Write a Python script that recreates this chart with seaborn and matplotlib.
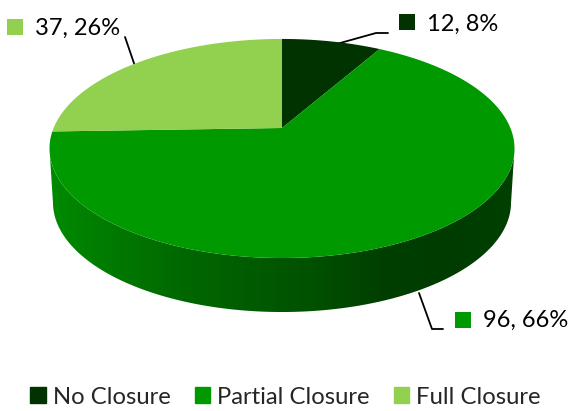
import numpy as np
import pandas as pd
import matplotlib.pyplot as plt
from matplotlib.patches import Patch
import seaborn as sns

categories = ["No Closure", "Partial Closure", "Full Closure"]
counts = [12, 96, 37]
percents = [8, 66, 26]
colors = ["#003300", "#009900", "#92D050"]
side_colors = ["#008A00", "#007800", "#006800", "#005C00", "#005000", "#003F00", "#003C00", "#004000"]

sns.set_theme(style="white")
plt.rcParams["font.family"] = ["Lato", "DejaVu Sans"]

# pie geometry in pixels, perspective squeezes the far half of the disc
cx, cy = 282, 128
bx, ay, k = 228.4, 105.7, 0.187
depth = 54
taper = 0.985


def project(angle):
    u, v = np.sin(angle), np.cos(angle)
    w = 1 + k * v
    return cx + bx * u / w, cy - ay * v / w


fig = plt.figure(figsize=(5.71, 4.11), dpi=100)
ax = fig.add_axes([0, 0, 1, 1])
ax.set(xlim=(0, 571), ylim=(411, 0))
ax.axis("off")

# side wall with a horizontal gradient, clipped to the extruded rim
t = np.linspace(0, 2 * np.pi, 721)
rx, ry = project(t)
left, right = rx.argmin(), rx.argmax()
front = np.arange(right, left + 1)
low_x = cx + (rx[front] - cx) * taper
wall_x = np.r_[rx[front], low_x[::-1]]
wall_y = np.r_[ry[front], ry[front][::-1] + depth]
cmap = sns.blend_palette(side_colors, as_cmap=True)
grad = np.linspace(0, 1, 512)[None, :]
im = ax.imshow(grad, cmap=cmap, extent=(rx.min(), rx.max(), 411, 0), aspect="auto", zorder=1)
wall = ax.fill(wall_x, wall_y, color="none", zorder=1)[0]
im.set_clip_path(wall)
ax.set(xlim=(0, 571), ylim=(411, 0))

# top face, clockwise from twelve o'clock
edges = np.r_[0, np.cumsum(counts)] / np.sum(counts) * 2 * np.pi
for i, color in enumerate(colors):
    a = np.linspace(edges[i], edges[i + 1], 200)
    x, y = project(a)
    ax.fill(np.r_[cx, x], np.r_[cy, y], color=color, lw=0, zorder=2)

# data labels with swatches and leader lines
label_pos = [(427, 24), (483, 320), (35, 28)]
swatch_pos = [(407, 22), (462.5, 320), (14.5, 27)]
leaders = [
    ([333, 376, 388], [45, 33, 33]),
    ([419, 432, 443], [293, 329, 329]),
    ([137, 125], [72, 37]),
]
for i in range(3):
    ax.text(*label_pos[i], f"{counts[i]}, {percents[i]}%", fontsize=17, color="black",
            va="center", ha="left", zorder=4)
    ax.scatter(*swatch_pos[i], marker="s", s=118, color=colors[i], lw=0, zorder=4)
    ax.plot(*leaders[i], color="black", lw=1.3, zorder=0.5)

handles = [Patch(color=c, label=n) for c, n in zip(colors, categories)]
ax.legend(handles=handles, loc="center", bbox_to_anchor=(285.5 / 571, 1 - 397 / 411), ncol=3,
          frameon=False, fontsize=17.2, handlelength=0.65, handleheight=0.65,
          handletextpad=0.3, columnspacing=1.0, borderpad=0)

fig.savefig("out.png", dpi=100)
